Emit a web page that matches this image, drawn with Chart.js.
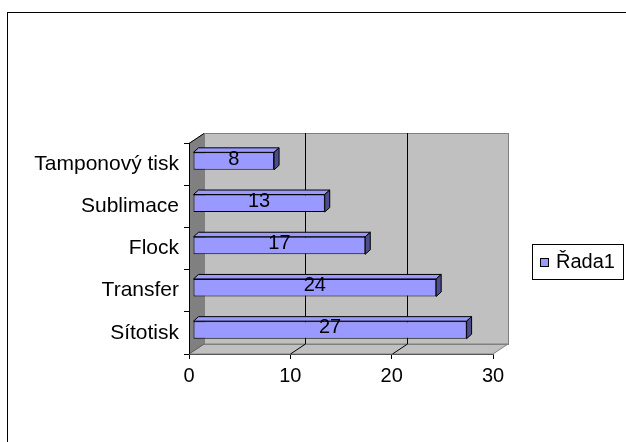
<!DOCTYPE html>
<html>
<head>
<meta charset="utf-8">
<title>Řada1</title>
<script src="https://cdn.jsdelivr.net/npm/chart.js@4.4.1/dist/chart.umd.min.js"></script>
<style>
  html, body { margin: 0; padding: 0; background: #fff; }
  #wrap { width: 626px; height: 442px; position: relative; }
</style>
</head>
<body>
<div id="wrap"><canvas id="c"></canvas></div>
<script>
// Categories listed bottom to top, as in the source spreadsheet
const categories = ['Sítotisk', 'Transfer', 'Flock', 'Sublimace', 'Tamponový tisk'];
const seriesName = 'Řada1';
const seriesValues = [27, 24, 17, 13, 8];
const valueTicks = [0, 10, 20, 30];

const FONT = '"Liberation Sans", Arial, sans-serif';
const DEPTH_X = 15, DEPTH_Y = -10;      // wall depth (back plane offset)
const BAR_SHIFT_X = 4, BAR_SHIFT_Y = -3; // bars sit slightly inside the box
const BAR_DX = 5, BAR_DY = -4.5;         // bar thickness in depth

const threeD = {
  id: 'threeD',
  beforeDraw(chart) {
    const ctx = chart.ctx;
    const { left: L, right: R, top: T, bottom: B } = chart.chartArea;
    const xs = chart.scales.x;
    ctx.save();
    ctx.fillStyle = '#fff';
    ctx.fillRect(0, 0, chart.width, chart.height);
    // outer chart border
    ctx.strokeStyle = '#000';
    ctx.lineWidth = 1;
    ctx.strokeRect(7.5, 12.5, 800, 600);

    // back wall
    ctx.fillStyle = '#c0c0c0';
    ctx.fillRect(L + DEPTH_X, T + DEPTH_Y, R - L, B - T);
    // floor
    ctx.beginPath();
    ctx.moveTo(L, B); ctx.lineTo(L + DEPTH_X, B + DEPTH_Y);
    ctx.lineTo(R + DEPTH_X, B + DEPTH_Y); ctx.lineTo(R, B); ctx.closePath();
    ctx.fillStyle = '#c0c0c0'; ctx.fill();
    ctx.strokeStyle = '#808080'; ctx.stroke();
    // back wall outline
    ctx.strokeStyle = '#808080';
    ctx.strokeRect(Math.round(L + DEPTH_X) + 0.5, Math.round(T + DEPTH_Y) + 0.5, R - L, B - T);
    // left wall
    ctx.beginPath();
    ctx.moveTo(L, T); ctx.lineTo(L + DEPTH_X, T + DEPTH_Y);
    ctx.lineTo(L + DEPTH_X, B + DEPTH_Y); ctx.lineTo(L, B); ctx.closePath();
    ctx.fillStyle = '#808080'; ctx.fill();
    ctx.beginPath();
    ctx.moveTo(L, T + 0.5); ctx.lineTo(L + DEPTH_X, T + DEPTH_Y + 0.5);
    ctx.strokeStyle = '#000'; ctx.stroke();
    ctx.beginPath();
    ctx.moveTo(L, B); ctx.lineTo(L + DEPTH_X, B + DEPTH_Y);
    ctx.strokeStyle = '#606060'; ctx.stroke();

    // gridlines on back wall and their floor diagonals
    ctx.strokeStyle = '#000';
    valueTicks.forEach(v => {
      if (v === valueTicks[0] || v === valueTicks[valueTicks.length - 1]) return;
      const px = Math.round(xs.getPixelForValue(v)) + 0.5;
      ctx.beginPath();
      ctx.moveTo(px + DEPTH_X, T + DEPTH_Y);
      ctx.lineTo(px + DEPTH_X, B + DEPTH_Y);
      ctx.lineTo(px, B);
      ctx.stroke();
    });
    ctx.restore();
  },
  beforeDatasetsDraw(chart) {
    const ctx = chart.ctx;
    ctx.save();
    ctx.translate(BAR_SHIFT_X, BAR_SHIFT_Y);
    // top and end faces of each bar
    chart.getDatasetMeta(0).data.forEach(bar => {
      const { x, y, base, height } = bar.getProps(['x', 'y', 'base', 'height'], true);
      const top = y - height / 2, bot = y + height / 2;
      ctx.lineWidth = 1;
      ctx.strokeStyle = '#000';
      ctx.beginPath();
      ctx.moveTo(base, top); ctx.lineTo(base + BAR_DX, top + BAR_DY);
      ctx.lineTo(x + BAR_DX, top + BAR_DY); ctx.lineTo(x, top); ctx.closePath();
      ctx.fillStyle = '#9999ff'; ctx.fill(); ctx.stroke();
      ctx.beginPath();
      ctx.moveTo(x, top); ctx.lineTo(x + BAR_DX, top + BAR_DY);
      ctx.lineTo(x + BAR_DX, bot + BAR_DY); ctx.lineTo(x, bot); ctx.closePath();
      ctx.fillStyle = '#4d4d8c'; ctx.fill(); ctx.stroke();
    });
  },
  afterDatasetsDraw(chart) {
    const ctx = chart.ctx;
    // value labels on the bars
    ctx.fillStyle = '#000';
    ctx.font = '20px ' + FONT;
    ctx.textAlign = 'center';
    ctx.textBaseline = 'middle';
    const ds = chart.data.datasets[0];
    chart.getDatasetMeta(0).data.forEach((bar, i) => {
      const { x, y, base } = bar.getProps(['x', 'y', 'base'], true);
      ctx.fillText(String(ds.data[i]), (x + base) / 2, y - 2);
    });
    ctx.restore();

    // legend
    ctx.save();
    ctx.strokeStyle = '#000';
    ctx.lineWidth = 1;
    ctx.strokeRect(532.5, 244.5, 91, 35);
    ctx.fillStyle = ds.backgroundColor;
    ctx.fillRect(540.5, 258.5, 8, 8);
    ctx.strokeRect(540.5, 258.5, 8, 8);
    ctx.fillStyle = '#000';
    ctx.font = '20px ' + FONT;
    ctx.textAlign = 'left';
    ctx.textBaseline = 'alphabetic';
    ctx.fillText(ds.label, 556, 268);
    ctx.restore();
  }
};

new Chart(document.getElementById('c'), {
  type: 'bar',
  data: {
    labels: categories,
    datasets: [{
      label: seriesName,
      data: seriesValues,
      backgroundColor: '#9999ff',
      borderColor: '#000',
      borderWidth: 1,
      borderSkipped: false,
      barPercentage: 0.415,
      categoryPercentage: 1
    }]
  },
  options: {
    indexAxis: 'y',
    responsive: true,
    maintainAspectRatio: false,
    animation: false,
    devicePixelRatio: 1,
    layout: { padding: { left: 0, right: 133, top: 143, bottom: 0 } },
    plugins: { legend: { display: false }, tooltip: { enabled: false } },
    scales: {
      y: {
        reverse: true,
        grid: { display: true, drawOnChartArea: false, drawTicks: true, tickLength: 5, color: '#000', offset: true },
        border: { display: true, color: '#000' },
        ticks: { color: '#000', font: { size: 21, family: FONT }, padding: 5 },
        afterFit(scale) { scale.width = 189; scale.paddingTop = 0; scale.paddingBottom = 0; }
      },
      x: {
        min: valueTicks[0],
        max: valueTicks[valueTicks.length - 1],
        afterBuildTicks(scale) { scale.ticks = valueTicks.map(v => ({ value: v })); },
        grid: { display: true, drawOnChartArea: false, drawTicks: true, tickLength: 5, color: '#000' },
        border: { display: true, color: '#555' },
        ticks: { color: '#000', font: { size: 20, family: FONT }, padding: 5, maxRotation: 0 },
        afterFit(scale) { scale.height = 88; scale.paddingLeft = 0; scale.paddingRight = 0; }
      }
    }
  },
  plugins: [threeD]
});
</script>
</body>
</html>
